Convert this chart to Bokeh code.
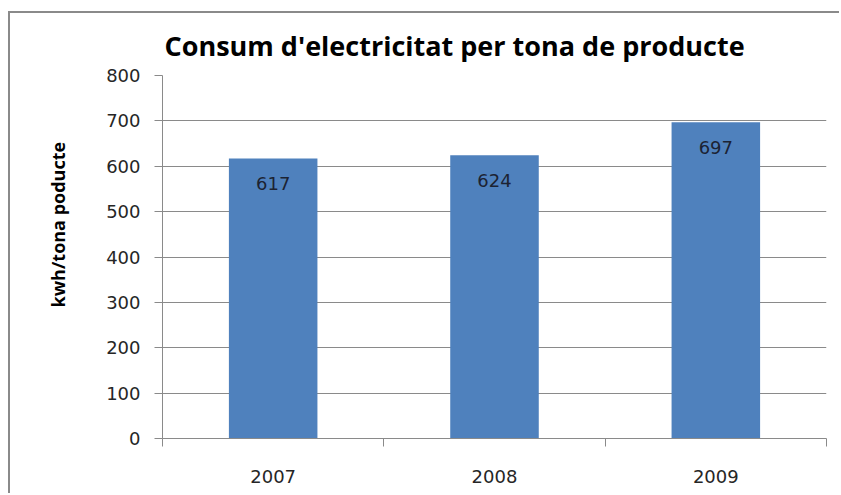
from bokeh.plotting import figure
from bokeh.models import ColumnDataSource, FixedTicker, LabelSet, Range1d, Title
from bokeh.core.properties import value
from bokeh.embed import file_html
from bokeh.resources import INLINE

# ---- data ----
years = ["2007", "2008", "2009"]
values = [617, 624, 697]
y_ticks = [0, 100, 200, 300, 400, 500, 600, 700, 800]
title_text = "Consum d'electricitat per tona de producte"
y_label = "kwh/tona poducte"

xs = [i + 0.5 for i in range(len(years))]
src = ColumnDataSource(dict(x=xs, top=values, lab=[str(v) for v in values]))

W, H = 831, 482
p = figure(width=W, height=H, output_backend="svg", toolbar_location=None,
           x_range=Range1d(0, len(years)), y_range=Range1d(0, 800),
           min_border_left=151, min_border_right=15, min_border_top=62,
           min_border_bottom=57)
p.styles = {"border-left": "2px solid #8a8a8a", "border-top": "2px solid #8a8a8a",
            "margin-top": "11px", "margin-left": "8px"}
p.outline_line_color = None
p.background_fill_color = "white"
p.border_fill_color = "white"

p.title.text = title_text
p.title.align = "left"
p.title.text_font = "Open Sans"
p.title.text_font_size = "27px"
p.title.text_font_style = "bold"
p.title.text_color = "black"
p.title.offset = 2
p.title.standoff = 23

p.vbar(x="x", top="top", width=0.4, bottom=0, source=src,
       fill_color="#4F81BD", line_color=None)

labels = LabelSet(x="x", y="top", text="lab", source=src, y_offset=-25,
                  text_align="center", text_baseline="middle",
                  text_font=value("DejaVu Sans"), text_font_size=value("18px"),
                  text_color="#1c2333")
p.add_layout(labels)

# y axis title, placed as in the original (above the axis centre)
ylab = Title(text=y_label, align="left", offset=131, standoff=67,
             text_font="Open Sans", text_font_style="bold",
             text_font_size="18px", text_color="black")
p.add_layout(ylab, "left")

# y axis
p.yaxis.ticker = FixedTicker(ticks=y_ticks)
p.yaxis.axis_line_color = "#8a8a8a"
p.yaxis.major_tick_line_color = "#8a8a8a"
p.yaxis.major_tick_out = 8
p.yaxis.major_tick_in = 0
p.yaxis.minor_tick_line_color = None
p.yaxis.major_label_standoff = 14
p.yaxis.major_label_text_font = "DejaVu Sans"
p.yaxis.major_label_text_font_size = "18px"
p.yaxis.major_label_text_color = "#262626"

# x axis
p.xaxis.ticker = FixedTicker(ticks=xs, minor_ticks=list(range(len(years) + 1)))
p.xaxis.major_label_overrides = {x: y for x, y in zip(xs, years)}
p.xaxis.axis_line_color = "#8a8a8a"
p.xaxis.major_tick_out = 0
p.xaxis.major_tick_in = 0
p.xaxis.minor_tick_line_color = "#8a8a8a"
p.xaxis.minor_tick_out = 8
p.xaxis.minor_tick_in = 0
p.xaxis.major_label_standoff = 23
p.xaxis.major_label_text_font = "DejaVu Sans"
p.xaxis.major_label_text_font_size = "18px"
p.xaxis.major_label_text_color = "#262626"

p.xgrid.grid_line_color = None
p.ygrid.grid_line_color = "#8a8a8a"
p.ygrid.grid_line_width = 1

open("out.html", "w").write(file_html(p, INLINE))
